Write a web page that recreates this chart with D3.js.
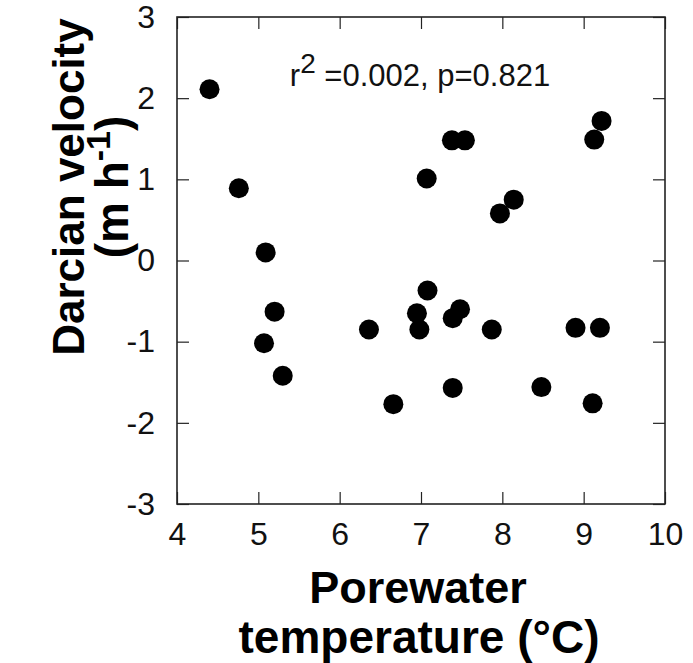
<!DOCTYPE html>
<html>
<head>
<meta charset="utf-8">
<script src="https://cdn.jsdelivr.net/npm/d3@7"></script>
<style>
body { margin: 0; background: #fff; }
svg { font-family: "Liberation Sans", Arial, sans-serif; }
</style>
</head>
<body>
<div id="chart"></div>
<script>
// porewater temperature (C) and darcian velocity (m/h)
var temps = [4.40, 4.76, 5.09, 5.20, 5.07, 5.30, 6.36, 6.66, 7.07, 7.38, 7.54, 7.08, 6.95,
             6.98, 7.48, 7.39, 7.39, 9.22, 9.13, 8.14, 7.97, 7.87, 8.90, 9.20, 8.48, 9.11];
var velocity = [2.11, 0.89, 0.10, -0.63, -1.02, -1.42, -0.85, -1.77, 1.01, 1.48, 1.48, -0.37, -0.65,
                -0.85, -0.60, -0.71, -1.57, 1.72, 1.49, 0.75, 0.58, -0.85, -0.83, -0.83, -1.56, -1.76];
var xTicks = [4, 5, 6, 7, 8, 9, 10];
var yTicks = [-3, -2, -1, 0, 1, 2, 3];

var scatter = function()
{
    var W = 693, H = 663;
    var pl = 177, pt = 17, pw = 488, ph = 487;
    var tickLen = 12;
    var plain = function(d) { return String(d); };

    var svg = d3.select("#chart")
        .append("svg")
        .attr("width", W)
        .attr("height", H);

    var x = d3.scaleLinear().domain([4, 10]).range([pl, pl + pw]);
    var y = d3.scaleLinear().domain([-3, 3]).range([pt + ph, pt]);

    var gx = svg.append("g")
        .attr("transform", "translate(0," + (pt + ph) + ")")
        .call(d3.axisBottom(x).tickValues(xTicks).tickFormat(plain)
            .tickSize(-tickLen).tickPadding(18).tickSizeOuter(0));
    var gy = svg.append("g")
        .attr("transform", "translate(" + pl + ",0)")
        .call(d3.axisLeft(y).tickValues(yTicks).tickFormat(plain)
            .tickSize(-tickLen).tickPadding(22).tickSizeOuter(0));
    var gt = svg.append("g")
        .attr("transform", "translate(0," + pt + ")")
        .call(d3.axisTop(x).tickValues(xTicks).tickFormat("")
            .tickSize(-tickLen).tickSizeOuter(0));
    var gr = svg.append("g")
        .attr("transform", "translate(" + (pl + pw) + ",0)")
        .call(d3.axisRight(y).tickValues(yTicks).tickFormat("")
            .tickSize(-tickLen).tickSizeOuter(0));

    [gx, gy, gt, gr].forEach(function(g) {
        g.select(".domain").remove();
        g.selectAll(".tick line").attr("stroke", "#222").attr("stroke-width", 1.2);
        g.selectAll(".tick text")
            .attr("font-family", "Liberation Sans, Arial, sans-serif")
            .attr("font-size", 32)
            .attr("fill", "#111");
    });

    // frame
    svg.append("rect")
        .attr("x", pl)
        .attr("y", pt)
        .attr("width", pw)
        .attr("height", ph)
        .attr("fill", "none")
        .attr("stroke", "#222")
        .attr("stroke-width", 1.6);

    var pts = temps.map(function(t, i) { return { t: t, v: velocity[i] }; });

    svg.selectAll("circle.pt")
        .data(pts)
        .enter()
        .append("circle")
        .attr("class", "pt")
        .attr("cx", function(d) { return x(d.t); })
        .attr("cy", function(d) { return y(d.v); })
        .attr("r", 10)
        .attr("fill", "#000");

    // stats note
    var note = svg.append("text")
        .attr("x", 420)
        .attr("y", 86)
        .attr("text-anchor", "middle")
        .attr("font-size", 31)
        .attr("fill", "#111");
    note.append("tspan").text("r");
    note.append("tspan").attr("dy", -13).attr("font-size", 28).text("2");
    note.append("tspan").attr("dy", 13).text(" =0.002, p=0.821");

    // axis titles
    svg.append("text")
        .attr("transform", "translate(69,187) rotate(-90)")
        .attr("dy", "0.35em")
        .attr("text-anchor", "middle")
        .attr("font-size", 44)
        .attr("font-weight", "bold")
        .text("Darcian velocity");

    var yt2 = svg.append("text")
        .attr("transform", "translate(112,187) rotate(-90)")
        .attr("dy", "0.35em")
        .attr("text-anchor", "middle")
        .attr("font-size", 46)
        .attr("font-weight", "bold");
    yt2.append("tspan").text("(m h");
    yt2.append("tspan").attr("dy", -18).attr("font-size", 34).text("-1");
    yt2.append("tspan").attr("dy", 18).text(")");

    svg.append("text")
        .attr("x", 418)
        .attr("y", 603)
        .attr("text-anchor", "middle")
        .attr("font-size", 45)
        .attr("font-weight", "bold")
        .text("Porewater");

    svg.append("text")
        .attr("x", 419)
        .attr("y", 653)
        .attr("text-anchor", "middle")
        .attr("font-size", 46)
        .attr("font-weight", "bold")
        .text("temperature (\u00B0C)");
}

scatter();
</script>
</body>
</html>
